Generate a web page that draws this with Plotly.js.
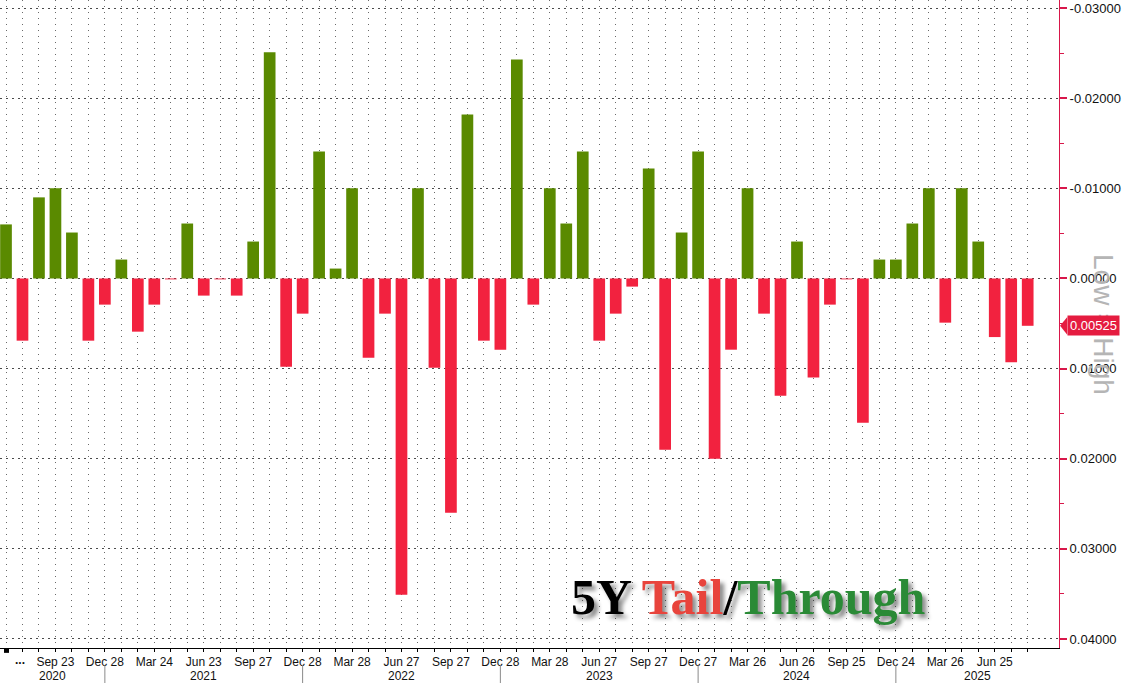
<!DOCTYPE html>
<html>
<head>
<meta charset="utf-8">
<script src="https://cdn.plot.ly/plotly-3.0.1.min.js"></script>
<style>
  html, body { margin: 0; padding: 0; background: #ffffff; }
  #chart { width: 1124px; height: 683px; }
</style>
</head>
<body>
<div id="chart"></div>
<script>
// Monthly 5Y auctions, Jun 2020 .. Aug 2025
const months = [
  "2020-06","2020-07","2020-08","2020-09","2020-10","2020-11","2020-12",
  "2021-01","2021-02","2021-03","2021-04","2021-05","2021-06","2021-07","2021-08","2021-09","2021-10","2021-11","2021-12",
  "2022-01","2022-02","2022-03","2022-04","2022-05","2022-06","2022-07","2022-08","2022-09","2022-10","2022-11","2022-12",
  "2023-01","2023-02","2023-03","2023-04","2023-05","2023-06","2023-07","2023-08","2023-09","2023-10","2023-11","2023-12",
  "2024-01","2024-02","2024-03","2024-04","2024-05","2024-06","2024-07","2024-08","2024-09","2024-10","2024-11","2024-12",
  "2025-01","2025-02","2025-03","2025-04","2025-05","2025-06","2025-07","2025-08"
];

// Tail (+) / Through (-), in yield points
const tailThrough = [
  -0.0060, 0.0069, -0.0090, -0.0100, -0.0051, 0.0069, 0.0029,
  -0.0021, 0.0059, 0.0029, 0.0001, -0.0061, 0.0019, 0.0001, 0.0019, -0.0041, -0.0251, 0.0098, 0.0039,
  -0.0141, -0.0011, -0.0100, 0.0088, 0.0039, 0.0351, -0.0100, 0.0099, 0.0260, -0.0182, 0.0069, 0.0079,
  -0.0243, 0.0029, -0.0100, -0.0061, -0.0141, 0.0069, 0.0039, 0.0009, -0.0122, 0.0190, -0.0051, -0.0141,
  0.0200, 0.0079, -0.0100, 0.0039, 0.0130, -0.0041, 0.0110, 0.0029, 0.0001, 0.0160, -0.0021, -0.0021,
  -0.0061, -0.0100, 0.0049, -0.0100, -0.0041, 0.0065, 0.0093, 0.00525
];

// x tick labels (auction dates)
const tickMonths = ["2020-09","2020-12","2021-03","2021-06","2021-09","2021-12","2022-03","2022-06","2022-09","2022-12",
                    "2023-03","2023-06","2023-09","2023-12","2024-03","2024-06","2024-09","2024-12","2025-03","2025-06"];
const tickLabels = ["Sep 23","Dec 28","Mar 24","Jun 23","Sep 27","Dec 28","Mar 28","Jun 27","Sep 27","Dec 28",
                    "Mar 28","Jun 27","Sep 27","Dec 27","Mar 26","Jun 26","Sep 25","Dec 24","Mar 26","Jun 25"];

// year band
const years = ["2020","2021","2022","2023","2024","2025"];
const yearBreaks = ["2020-12","2021-12","2022-12","2023-12","2024-12"];

// right axis ticks
const yTicks = [-0.03, -0.02, -0.01, 0, 0.01, 0.02, 0.03, 0.04];
const yMinorTicks = [-0.025, -0.015, -0.005, 0.005, 0.015, 0.025, 0.035];
const lastValue = 0.00525;

const GREEN = "#5a8a00";
const RED = "#f2223f";
const AXIS_RED = "#d8174a";

const xRange = [-0.364, 63.9];
const idx = m => months.indexOf(m);

const tickText = months.map(m => {
  const k = tickMonths.indexOf(m);
  return k >= 0 ? tickLabels[k] : "";
});

const trace = {
  type: "bar",
  x: months,
  y: tailThrough,
  marker: { color: tailThrough.map(v => v > 0 ? RED : GREEN), line: { width: 0 } },
  hoverinfo: "x+y"
};

const breakIdx = yearBreaks.map(idx);
const bounds = [xRange[0]].concat(breakIdx, [xRange[1]]);

const shapes = [];
const annotations = [];

breakIdx.forEach(b => {
  shapes.push({ type: "line", xref: "x", yref: "paper", x0: b, x1: b, y0: -0.0262, y1: -0.06,
                line: { color: "#8a8a8a", width: 1 } });
});
years.forEach((yr, i) => {
  annotations.push({ xref: "x", yref: "paper", x: (bounds[i] + bounds[i + 1]) / 2, y: -0.0432,
                     text: yr, showarrow: false, xanchor: "center", yanchor: "middle",
                     font: { family: "Liberation Sans, Arial, sans-serif", size: 12, color: "#111" } });
});

// "..." at start of axis
annotations.push({ xref: "paper", yref: "paper", x: 20 / 1059, y: -0.018, text: "<b>...</b>", showarrow: false,
                   xanchor: "center", yanchor: "middle", font: { family: "Liberation Sans, Arial", size: 12, color: "#111" } });
shapes.push({ type: "rect", xref: "paper", yref: "paper", x0: 4 / 1059, x1: 9 / 1059, y0: -0.0075, y1: 0.0,
              fillcolor: "#000", line: { width: 0 } });

// Chart title
annotations.push({
  xref: "paper", yref: "paper", x: 0.707, y: 0.079, xanchor: "center", yanchor: "middle", showarrow: false,
  text: '<b><span style="color:#000000">5Y </span><span style="color:#e8443c">Tail</span>' +
        '<span style="color:#000000">/</span><span style="color:#2a8a36">Through</span></b>',
  font: { family: "Liberation Serif, Times New Roman, serif", size: 50, color: "#000",
          shadow: "4px 4px 4px rgba(0,0,0,0.45)" }
});

// Right axis side label
annotations.push({
  xref: "paper", yref: "paper", x: 1.0425, y: 0.5, textangle: 90, showarrow: false,
  xanchor: "center", yanchor: "middle", text: "Low = High",
  font: { family: "Liberation Sans, Arial, sans-serif", size: 28, color: "#b5b5b5" }
});

// Last value box
annotations.push({
  xref: "paper", yref: "y", x: 1.0075, y: lastValue, xanchor: "left", yanchor: "middle", showarrow: false,
  text: lastValue.toFixed(5), bgcolor: "#e51c40", borderpad: 2,
  font: { family: "Liberation Sans, Arial, sans-serif", size: 13, color: "#ffffff" }
});
shapes.push({
  type: "path", xref: "paper", yref: "y",
  path: `M 1.0010 ${lastValue} L 1.0078 ${lastValue - 0.00098} L 1.0078 ${lastValue + 0.00098} Z`,
  fillcolor: "#e51c40", line: { width: 0 }
});

const layout = {
  width: 1124, height: 683,
  margin: { l: 0, r: 65, t: 0, b: 35, pad: 0 },
  paper_bgcolor: "#ffffff", plot_bgcolor: "#ffffff",
  showlegend: false,
  bargap: 0.29,
  xaxis: {
    type: "category",
    range: xRange,
    tickmode: "array", tickvals: months, ticktext: tickText,
    ticks: "outside", ticklen: 3, tickcolor: "#000", tickwidth: 1,
    showline: true, linecolor: "#000", linewidth: 1,
    showgrid: true, gridcolor: "#6a6a6a", gridwidth: 1, griddash: "1px,5px",
    tickangle: 0,
    tickfont: { family: "Liberation Sans, Arial, sans-serif", size: 12, color: "#111" },
    fixedrange: true
  },
  yaxis: {
    side: "right",
    range: [0.041, -0.0309],
    tickmode: "array", tickvals: yTicks, ticktext: yTicks.map(v => v.toFixed(5)),
    ticks: "outside", ticklen: 7, tickwidth: 2, tickcolor: AXIS_RED,
    minor: { tickmode: "array", tickvals: yMinorTicks,
             ticks: "outside", ticklen: 4, tickcolor: AXIS_RED, tickwidth: 1, showgrid: false },
    showline: true, linecolor: AXIS_RED, linewidth: 1,
    showgrid: true, gridcolor: "#4a4a4a", gridwidth: 1, griddash: "2px,4px",
    zeroline: false,
    tickfont: { family: "Liberation Sans, Arial, sans-serif", size: 13, color: "#111" },
    fixedrange: true
  },
  shapes: shapes,
  annotations: annotations
};

Plotly.newPlot("chart", [trace], layout, { displayModeBar: false, staticPlot: true });
</script>
</body>
</html>
